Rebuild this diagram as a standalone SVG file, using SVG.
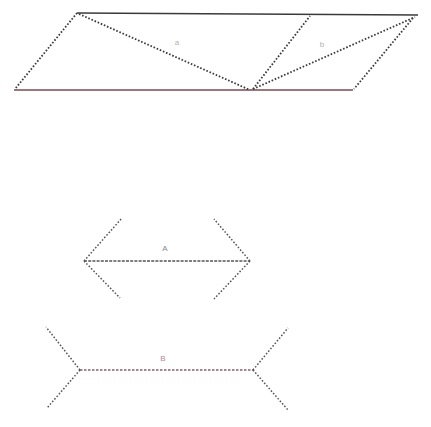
<svg xmlns="http://www.w3.org/2000/svg" width="431" height="427" viewBox="0 0 431 427">
<style>
.dot{stroke:#3a3a3a;stroke-width:1.8;stroke-dasharray:1.6 1.8;fill:none}
.solid{stroke:#3a3a3a;stroke-width:1.4;fill:none}
.red{stroke:#7a4a52;stroke-width:1.4;fill:none}
.fin{stroke:#555555;stroke-width:1.5;stroke-dasharray:1.6 1.8;fill:none}
.redfin{stroke:#8a6068;stroke-width:1.5;stroke-dasharray:2.5 1.5;fill:none}
.lbl{font-family:"Liberation Sans",Arial,sans-serif;font-size:8px;fill:#b0b0b0;text-anchor:middle}
</style>
<rect width="431" height="427" fill="#ffffff"/>
<g id="connectors">
<g id="parallelogram">
<line class="solid" x1="77" y1="13" x2="418" y2="15"/>
<line class="red" x1="14" y1="90" x2="353" y2="90"/>
<line class="dot" x1="77" y1="13" x2="15" y2="89"/>
<line class="dot" x1="413" y1="18" x2="354" y2="89"/>
<line class="dot" x1="79" y1="14" x2="250" y2="90"/>
<line class="dot" x1="253" y1="89" x2="310" y2="16"/>
<line class="dot" x1="253" y1="89" x2="415" y2="17"/>
</g>
<g id="figA">
<line class="fin" x1="84" y1="261" x2="250" y2="261" style="stroke-dasharray:3 1.2"/>
<line class="fin" x1="84" y1="261" x2="122" y2="218"/>
<line class="fin" x1="84" y1="261" x2="120" y2="298"/>
<line class="fin" x1="250" y1="261" x2="214" y2="219"/>
<line class="fin" x1="250" y1="261" x2="214" y2="299"/>
</g>
<g id="figB">
<line class="redfin" x1="80" y1="370" x2="253" y2="370"/>
<line class="fin" x1="80" y1="370" x2="46" y2="327"/>
<line class="fin" x1="80" y1="370" x2="47" y2="408"/>
<line class="fin" x1="253" y1="370" x2="288" y2="328"/>
<line class="fin" x1="253" y1="370" x2="288" y2="410"/>
</g>
</g>
<g id="labels">
<text class="lbl" x="177" y="45">a</text>
<text class="lbl" x="322" y="47">b</text>
<text class="lbl" x="165" y="251" style="fill:#888">A</text>
<text class="lbl" x="163" y="361" style="fill:#b08890">B</text>
</g>
</svg>
